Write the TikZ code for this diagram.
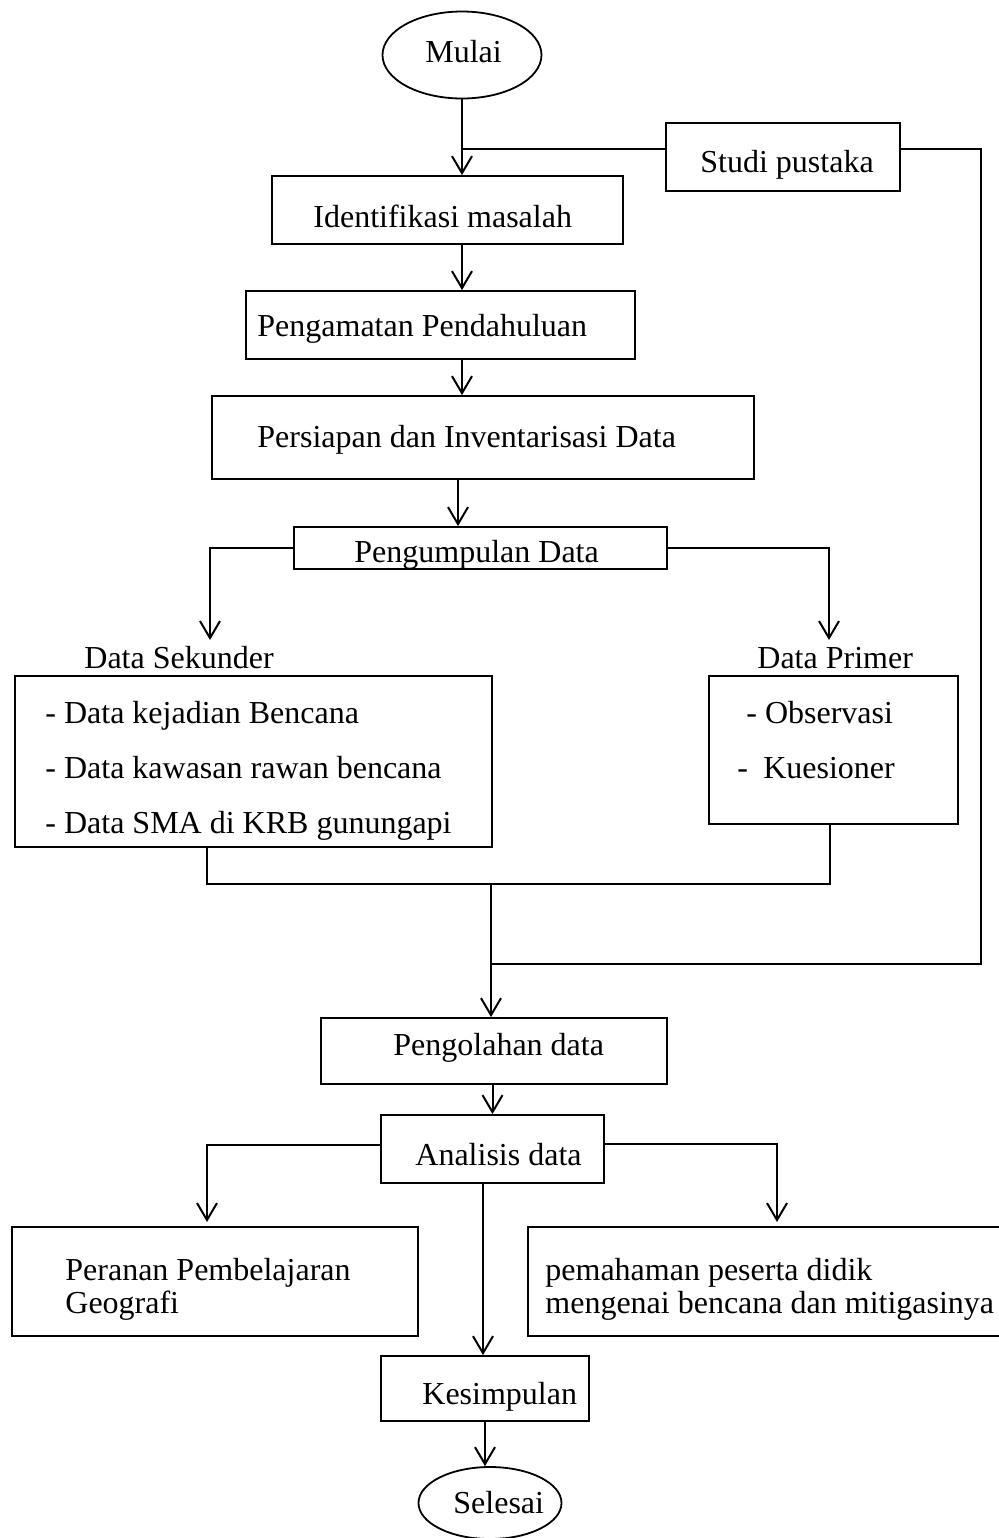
\documentclass[tikz,border=0pt]{standalone}
\usepackage{fontspec}
\setmainfont{Liberation Serif}
\usetikzlibrary{arrows.meta,shapes.geometric}
\tikzset{
  box/.style={draw, line width=0.9pt, rectangle, inner sep=0pt},
  oval/.style={draw, line width=0.9pt, ellipse, inner sep=0pt},
  txt/.style={inner sep=0pt, anchor=base west},
  conn/.style={line width=1pt},
  arr/.style={line width=1pt, -{Straight Barb[length=8.5pt,width=10pt,line width=1pt]}},
}
\begin{document}
\begin{tikzpicture}[x=0.5pt,y=-0.5pt,font=\fontsize{16}{19}\selectfont]
\useasboundingbox (0,0) rectangle (999,1538);
% shapes
\node[oval, minimum width=79.5pt, minimum height=43.5pt] (mulai) at (462,55) {};
\node[box, minimum width=117pt, minimum height=34pt] (studi) at (783,157) {};
\node[box, minimum width=175.5pt, minimum height=34pt] (iden) at (447.5,210) {};
\node[box, minimum width=194.5pt, minimum height=34pt] (penga) at (440.5,325) {};
\node[box, minimum width=271pt, minimum height=41.5pt] (persi) at (483,437.5) {};
\node[box, minimum width=186.5pt, minimum height=21pt] (pengum) at (480.5,548) {};
\node[box, minimum width=238.5pt, minimum height=85.5pt] (seku) at (253.5,761.5) {};
\node[box, minimum width=124.5pt, minimum height=74pt] (prim) at (833.5,750) {};
\node[box, minimum width=173pt, minimum height=33pt] (pengol) at (494,1051) {};
\node[box, minimum width=111.5pt, minimum height=34pt] (anal) at (492.5,1149) {};
\node[box, minimum width=203pt, minimum height=54.5pt] (peran) at (215,1281.5) {};
\node[box, minimum width=241pt, minimum height=54.5pt] (pemah) at (769,1281.5) {};
\node[box, minimum width=104pt, minimum height=32.5pt] (kesim) at (485,1388.5) {};
\node[oval, minimum width=71.5pt, minimum height=36pt] (selesai) at (490,1503) {};
% texts
\node[txt] (tmulai) at (425,62) {Mulai};
\node[txt] (tstudi) at (700,172) {Studi pustaka};
\node[txt] (tiden) at (313,227) {Identifikasi masalah};
\node[txt] (tpenga) at (257,336) {Pengamatan Pendahuluan};
\node[txt] (tpersi) at (257,447) {Persiapan dan Inventarisasi Data};
\node[txt] (tpengum) at (354,562) {Pengumpulan Data};
\node[txt] (lseku) at (84,668) {Data Sekunder};
\node[txt] (lprim) at (757,668) {Data Primer};
\node[txt] (s1) at (45,723) {- Data kejadian Bencana};
\node[txt] (s2) at (45,778) {- Data kawasan rawan bencana};
\node[txt] (s3) at (45,833) {- Data SMA di KRB gunungapi};
\node[txt] (p1) at (746,723) {- Observasi};
\node[txt] (p2) at (737,778) {-\hspace{7.6pt}Kuesioner};
\node[txt] (tpengol) at (393,1055) {Pengolahan data};
\node[txt] (tanal) at (415,1165) {Analisis data};
\node[txt] (tperan1) at (65,1280) {Peranan Pembelajaran};
\node[txt] (tperan2) at (65,1313) {Geografi};
\node[txt] (tpemah1) at (545,1280) {pemahaman peserta didik};
\node[txt] (tpemah2) at (545,1313) {mengenai bencana dan mitigasinya};
\node[txt] (tkesim) at (422,1404) {Kesimpulan};
\node[txt] (tsel) at (453,1513) {Selesai};
% helper coordinates
\coordinate (t1) at (210,640);
\coordinate (t2) at (829,640);
\coordinate (m1) at (207,884);
\coordinate (m2) at (830,884);
\coordinate (m3) at (491,884);
\coordinate (j) at (491,964);
\coordinate (r1) at (981,964);
\coordinate (a1) at (207,1222);
\coordinate (a2) at (777,1222);
% connectors
\draw[arr] (mulai.south) -- (mulai.south |- iden.north);
\draw[conn] ([yshift=4pt]studi.west) -- ([yshift=4pt]studi.west -| mulai.south);
\draw[conn] ([yshift=4pt]studi.east) -| (r1) -- (j);
\draw[arr] (iden.south -| mulai.south) -- (penga.north -| mulai.south);
\draw[arr] (penga.south -| mulai.south) -- (persi.north -| mulai.south);
\draw[arr] (persi.south -| 458,0) -- (pengum.north -| 458,0);
\draw[arr] (pengum.west) -| (t1);
\draw[arr] (pengum.east) -| (t2);
\draw[conn] (seku.south -| m1) -- (m1) -- (m2) -- (prim.south -| m2);
\draw[arr] (m3) -- (pengol.north -| m3);
\draw[arr] (pengol.south -| anal.north) -- (anal.north);
\draw[arr] ([yshift=2pt]anal.west) -| (a1);
\draw[arr] ([yshift=2.5pt]anal.east) -| (a2);
\draw[arr] (anal.south -| 483,0) -- (kesim.north -| 483,0);
\draw[arr] (kesim.south) -- (kesim.south |- selesai.north);
\end{tikzpicture}
\end{document}
